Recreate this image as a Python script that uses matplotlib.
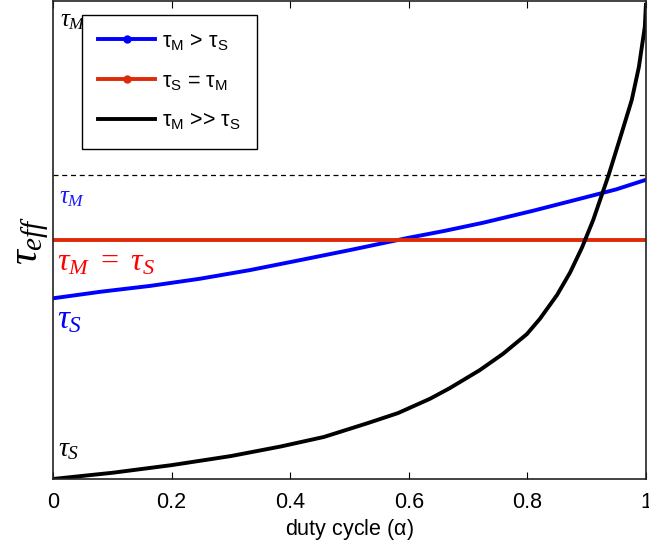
import matplotlib
matplotlib.use("Agg")
import matplotlib.pyplot as plt
from matplotlib.lines import Line2D

plt.rcParams['mathtext.fontset'] = 'custom'
plt.rcParams['mathtext.it'] = 'Liberation Serif:italic'
plt.rcParams['mathtext.rm'] = 'Liberation Serif'
plt.rcParams['font.family'] = ['Liberation Sans', 'DejaVu Sans']

# data (y normalised: 0 = tau_S level of black curve, 1 = top)
x_black = [0.0, 0.1, 0.2, 0.3, 0.384, 0.457, 0.531, 0.582, 0.636, 0.669, 0.720,
           0.759, 0.799, 0.821, 0.850, 0.872, 0.892, 0.911, 0.937, 0.959, 0.976,
           0.988, 0.998, 1.0]
y_black = [0.0, 0.013, 0.029, 0.048, 0.068, 0.088, 0.117, 0.138, 0.168, 0.190, 0.228,
           0.262, 0.303, 0.335, 0.385, 0.432, 0.484, 0.542, 0.636, 0.724, 0.793,
           0.862, 0.946, 0.996]

x_blue = [0.0, 0.082, 0.164, 0.248, 0.332, 0.417, 0.501, 0.597, 0.660, 0.725, 0.809, 0.894, 0.950, 1.0]
y_blue = [0.378, 0.392, 0.404, 0.419, 0.437, 0.458, 0.479, 0.504, 0.519, 0.536, 0.561, 0.588, 0.606, 0.626]

x_red = [0.0, 1.0]
y_red = [0.50, 0.50]

tau_M_level = 0.636

xticks = [0, 0.2, 0.4, 0.6, 0.8, 1]
xticklabels = ['0', '0.2', '0.4', '0.6', '0.8', '1']

legend_labels = [r'$\mathregular{\tau_M}$ > $\mathregular{\tau_S}$',
                 r'$\mathregular{\tau_S}$ = $\mathregular{\tau_M}$',
                 r'$\mathregular{\tau_M}$ >> $\mathregular{\tau_S}$']

BLUE = '#0000ff'
RED = '#dd2a08'

fig = plt.figure(figsize=(6.49, 5.43), dpi=100)
ax = fig.add_axes([53/649, (543-479)/543, (646-53)/649, 478/543])

ax.axhline(tau_M_level, color='black', lw=0.9, ls=(0, (4, 3)))
ax.plot(x_blue, y_blue, color=BLUE, lw=2.8, solid_capstyle='butt', solid_joinstyle='round')
ax.plot(x_red, y_red, color=RED, lw=2.8, solid_capstyle='butt')
ax.plot(x_black, y_black, color='black', lw=2.8, solid_capstyle='butt', solid_joinstyle='round')

handles = [Line2D([], [], color=BLUE, lw=2.8, marker='.', ms=10),
           Line2D([], [], color=RED, lw=2.8, marker='.', ms=10),
           Line2D([], [], color='black', lw=2.8)]
leg = ax.legend(handles, legend_labels, loc='upper left', bbox_to_anchor=(0.049, 0.971),
                fancybox=False, edgecolor='black', framealpha=1, fontsize=15.5,
                handlelength=2.65, handletextpad=0.3, labelspacing=0.85,
                borderpad=0.75, borderaxespad=0)
leg.get_frame().set_linewidth(1.0)

ax.set_xlim(0, 1)
ax.set_ylim(0, 1)
ax.set_xticks(xticks)
ax.set_xticklabels(xticklabels, fontsize=15.5)
ax.set_yticks([])
ax.tick_params(axis='x', direction='in', length=5, top=True, pad=9)
for s in ax.spines.values():
    s.set_linewidth(1.2)
    s.set_color('#222222')

ax.set_xlabel(r'duty cycle ($\mathregular{\alpha}$)', fontsize=15.5, labelpad=3)

# y label
fig.text(31/649, 1 - 240/543, r'$\tau_{eff}$', rotation=90, fontsize=30,
         ha='center', va='center')

# annotations
ax.text(0.012, 0.985, r'$\tau_M$', fontsize=18, color='black', ha='left', va='top', transform=ax.transAxes)
ax.text(0.010, 0.615, r'$\tau_M$', fontsize=18, color='#1a1aff', ha='left', va='top', transform=ax.transAxes)
ax.text(0.006, 0.485, r'$\tau_M\ =\ \tau_S$', fontsize=23, color='#ff0000', ha='left', va='top', transform=ax.transAxes)
ax.text(0.006, 0.365, r'$\tau_S$', fontsize=24, color=BLUE, ha='left', va='top', transform=ax.transAxes)
ax.text(0.008, 0.09, r'$\tau_S$', fontsize=20, color='black', ha='left', va='top', transform=ax.transAxes)

fig.savefig('out.png', dpi=100)
